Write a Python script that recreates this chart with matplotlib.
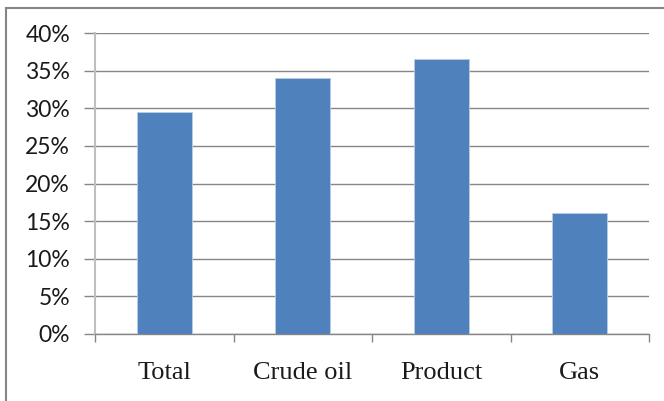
import matplotlib.pyplot as plt
import numpy as np
from matplotlib.patches import Rectangle

categories = ['Total', 'Crude oil', 'Product', 'Gas']
shares = [29.5, 34.0, 36.5, 16.1]
ytick_values = [0, 5, 10, 15, 20, 25, 30, 35, 40]
ytick_labels = ['%d%%' % v for v in ytick_values]

fig = plt.figure(figsize=(6.64, 4.01), dpi=100)
# chart area, in figure pixels: x 95..649, y 33..334
ax = fig.add_axes([95 / 664, (401 - 334) / 401, 554 / 664, 301 / 401])

x = np.arange(len(categories))
ax.bar(x, shares, width=0.4, color='#4F81BD', edgecolor='#B9CDE5',
       linewidth=0.6, zorder=3)

ax.set_xlim(-0.5, len(categories) - 0.5)
ax.set_ylim(0, 40)
ax.set_yticks(ytick_values)
ax.set_yticklabels(ytick_labels, family='Lato', fontsize=16.5, color='#1a1a1a')
ax.yaxis.grid(True, color='#868686', linewidth=1.0, zorder=0)

# category labels centred under bars, ticks on category boundaries
ax.set_xticks(x)
ax.set_xticklabels(categories, family='Liberation Serif', fontsize=19,
                   color='#1a1a1a')
ax.set_xticks(np.arange(-0.5, len(categories)), minor=True)
ax.tick_params(axis='x', which='major', length=0, pad=20)
ax.tick_params(axis='x', which='minor', length=6, color='#868686', width=1.0)
ax.tick_params(axis='y', length=8, color='#868686', width=1.0, pad=10)

for side in ['top', 'right']:
    ax.spines[side].set_visible(False)
ax.spines['left'].set_color('#BFBFBF')
ax.spines['left'].set_linewidth(1.5)
ax.spines['bottom'].set_color('#868686')
ax.spines['bottom'].set_linewidth(1.0)

# outer chart frame (left and top edges visible)
fig.patches.append(Rectangle((6 / 664, -0.1), 1.2, (401 - 8) / 401 + 0.1,
                             transform=fig.transFigure, fill=False,
                             edgecolor='#868686', linewidth=1.5))

fig.savefig('out.png', dpi=100)
